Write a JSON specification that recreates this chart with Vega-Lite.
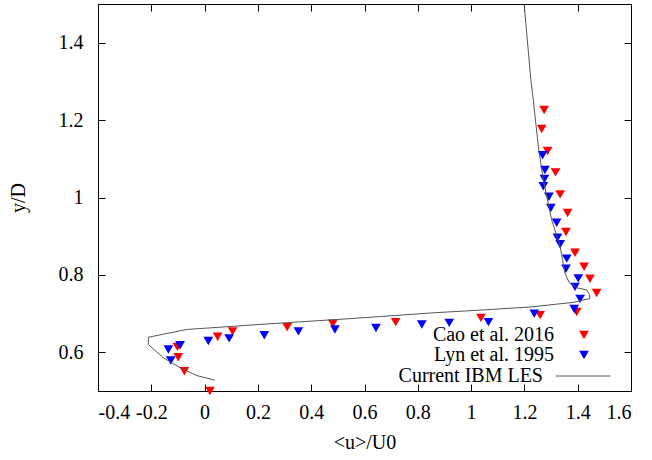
{
  "$schema": "https://vega.github.io/schema/vega-lite/v6.json",
  "width": 533,
  "height": 387,
  "autosize": {"type": "none"},
  "padding": {"left": 98, "top": 4, "right": 21, "bottom": 69},
  "background": "white",
  "config": {
    "view": {"stroke": "#000", "strokeWidth": 1},
    "font": "Liberation Serif",
    "axis": {
      "domain": false,
      "grid": false,
      "tickColor": "#000",
      "tickSize": -7,
      "tickWidth": 1,
      "labelFont": "Liberation Serif",
      "labelFontSize": 20,
      "labelColor": "#000",
      "titleFont": "Liberation Serif",
      "titleFontSize": 20,
      "titleFontWeight": "normal",
      "titleColor": "#000"
    },
    "legend": {
      "labelFont": "Liberation Serif",
      "labelFontSize": 20,
      "labelColor": "#000",
      "title": null,
      "labelAlign": "right",
      "labelLimit": 400,
      "rowPadding": 0,
      "padding": 0,
      "orient": "none"
    }
  },
  "datasets": {
    "pts": [
      {"u": 0.020, "y": 0.500, "s": "Cao et al. 2016"},
      {"u": -0.076, "y": 0.551, "s": "Cao et al. 2016"},
      {"u": -0.099, "y": 0.587, "s": "Cao et al. 2016"},
      {"u": -0.102, "y": 0.614, "s": "Cao et al. 2016"},
      {"u": 0.049, "y": 0.640, "s": "Cao et al. 2016"},
      {"u": 0.105, "y": 0.654, "s": "Cao et al. 2016"},
      {"u": 0.310, "y": 0.665, "s": "Cao et al. 2016"},
      {"u": 0.481, "y": 0.674, "s": "Cao et al. 2016"},
      {"u": 0.717, "y": 0.678, "s": "Cao et al. 2016"},
      {"u": 1.037, "y": 0.689, "s": "Cao et al. 2016"},
      {"u": 1.259, "y": 0.696, "s": "Cao et al. 2016"},
      {"u": 1.396, "y": 0.704, "s": "Cao et al. 2016"},
      {"u": 1.471, "y": 0.753, "s": "Cao et al. 2016"},
      {"u": 1.446, "y": 0.790, "s": "Cao et al. 2016"},
      {"u": 1.424, "y": 0.821, "s": "Cao et al. 2016"},
      {"u": 1.390, "y": 0.857, "s": "Cao et al. 2016"},
      {"u": 1.356, "y": 0.911, "s": "Cao et al. 2016"},
      {"u": 1.362, "y": 0.960, "s": "Cao et al. 2016"},
      {"u": 1.334, "y": 1.008, "s": "Cao et al. 2016"},
      {"u": 1.317, "y": 1.065, "s": "Cao et al. 2016"},
      {"u": 1.287, "y": 1.120, "s": "Cao et al. 2016"},
      {"u": 1.265, "y": 1.177, "s": "Cao et al. 2016"},
      {"u": 1.274, "y": 1.226, "s": "Cao et al. 2016"},
      {"u": -0.136, "y": 0.607, "s": "Lyn et al. 1995"},
      {"u": -0.127, "y": 0.579, "s": "Lyn et al. 1995"},
      {"u": -0.092, "y": 0.618, "s": "Lyn et al. 1995"},
      {"u": 0.014, "y": 0.629, "s": "Lyn et al. 1995"},
      {"u": 0.092, "y": 0.636, "s": "Lyn et al. 1995"},
      {"u": 0.224, "y": 0.644, "s": "Lyn et al. 1995"},
      {"u": 0.352, "y": 0.654, "s": "Lyn et al. 1995"},
      {"u": 0.489, "y": 0.659, "s": "Lyn et al. 1995"},
      {"u": 0.643, "y": 0.663, "s": "Lyn et al. 1995"},
      {"u": 0.815, "y": 0.672, "s": "Lyn et al. 1995"},
      {"u": 0.918, "y": 0.676, "s": "Lyn et al. 1995"},
      {"u": 1.065, "y": 0.678, "s": "Lyn et al. 1995"},
      {"u": 1.237, "y": 0.700, "s": "Lyn et al. 1995"},
      {"u": 1.387, "y": 0.712, "s": "Lyn et al. 1995"},
      {"u": 1.409, "y": 0.738, "s": "Lyn et al. 1995"},
      {"u": 1.390, "y": 0.769, "s": "Lyn et al. 1995"},
      {"u": 1.402, "y": 0.791, "s": "Lyn et al. 1995"},
      {"u": 1.356, "y": 0.816, "s": "Lyn et al. 1995"},
      {"u": 1.359, "y": 0.842, "s": "Lyn et al. 1995"},
      {"u": 1.334, "y": 0.879, "s": "Lyn et al. 1995"},
      {"u": 1.324, "y": 0.896, "s": "Lyn et al. 1995"},
      {"u": 1.321, "y": 0.935, "s": "Lyn et al. 1995"},
      {"u": 1.299, "y": 0.973, "s": "Lyn et al. 1995"},
      {"u": 1.292, "y": 1.002, "s": "Lyn et al. 1995"},
      {"u": 1.271, "y": 1.029, "s": "Lyn et al. 1995"},
      {"u": 1.275, "y": 1.048, "s": "Lyn et al. 1995"},
      {"u": 1.277, "y": 1.071, "s": "Lyn et al. 1995"},
      {"u": 1.268, "y": 1.109, "s": "Lyn et al. 1995"}
    ],
    "les": [
      {"i": 0, "u": 0.039, "y": 0.528, "s": "Current IBM LES"},
      {"i": 1, "u": -0.030, "y": 0.540, "s": "Current IBM LES"},
      {"i": 2, "u": -0.092, "y": 0.560, "s": "Current IBM LES"},
      {"i": 3, "u": -0.155, "y": 0.586, "s": "Current IBM LES"},
      {"i": 4, "u": -0.211, "y": 0.620, "s": "Current IBM LES"},
      {"i": 5, "u": -0.211, "y": 0.639, "s": "Current IBM LES"},
      {"i": 6, "u": -0.067, "y": 0.659, "s": "Current IBM LES"},
      {"i": 7, "u": 0.208, "y": 0.672, "s": "Current IBM LES"},
      {"i": 8, "u": 0.546, "y": 0.687, "s": "Current IBM LES"},
      {"i": 9, "u": 0.858, "y": 0.702, "s": "Current IBM LES"},
      {"i": 10, "u": 1.033, "y": 0.709, "s": "Current IBM LES"},
      {"i": 11, "u": 1.221, "y": 0.717, "s": "Current IBM LES"},
      {"i": 12, "u": 1.383, "y": 0.729, "s": "Current IBM LES"},
      {"i": 13, "u": 1.446, "y": 0.739, "s": "Current IBM LES"},
      {"i": 14, "u": 1.444, "y": 0.749, "s": "Current IBM LES"},
      {"i": 15, "u": 1.434, "y": 0.761, "s": "Current IBM LES"},
      {"i": 16, "u": 1.396, "y": 0.767, "s": "Current IBM LES"},
      {"i": 17, "u": 1.368, "y": 0.780, "s": "Current IBM LES"},
      {"i": 18, "u": 1.352, "y": 0.805, "s": "Current IBM LES"},
      {"i": 19, "u": 1.334, "y": 0.874, "s": "Current IBM LES"},
      {"i": 20, "u": 1.302, "y": 0.943, "s": "Current IBM LES"},
      {"i": 21, "u": 1.271, "y": 1.046, "s": "Current IBM LES"},
      {"i": 22, "u": 1.252, "y": 1.133, "s": "Current IBM LES"},
      {"i": 23, "u": 1.233, "y": 1.255, "s": "Current IBM LES"},
      {"i": 24, "u": 1.224, "y": 1.305, "s": "Current IBM LES"},
      {"i": 25, "u": 1.199, "y": 1.500, "s": "Current IBM LES"}
    ]
  },
  "layer": [
    {
      "data": {"name": "pts"},
      "mark": {"type": "point", "filled": true, "opacity": 1, "shape": "triangle-down", "size": 95, "strokeWidth": 0, "clip": false},
      "encoding": {
        "x": {
          "field": "u", "type": "quantitative",
          "scale": {"domain": [-0.4, 1.6], "nice": false, "zero": false},
          "axis": {
            "values": [-0.4, -0.2, 0, 0.2, 0.4, 0.6, 0.8, 1, 1.2, 1.4, 1.6],
            "labelExpr": "datum.value < 0 ? '-' + format(-datum.value, '~g') : format(datum.value, '~g')",
            "labelPadding": 18,
            "title": "<u>/U0",
            "titlePadding": 10
          }
        },
        "y": {
          "field": "y", "type": "quantitative",
          "scale": {"domain": [0.5, 1.5], "nice": false, "zero": false},
          "axis": {
            "values": [0.6, 0.8, 1, 1.2, 1.4],
            "labelExpr": "format(datum.value, '~g')",
            "labelPadding": 22,
            "title": "y/D",
            "titlePadding": 30
          }
        },
        "color": {
          "field": "s", "type": "nominal",
          "scale": {"domain": ["Cao et al. 2016", "Lyn et al. 1995"], "range": ["#ff0000", "#0000ff"]},
          "legend": {
            "legendX": 476,
            "legendY": 321,
            "labelOffset": -40,
            "symbolType": "triangle-down",
            "symbolSize": 95,
            "symbolStrokeWidth": 0
          }
        }
      }
    },
    {
      "data": {"name": "les"},
      "mark": {"type": "line", "strokeWidth": 1, "clip": true},
      "encoding": {
        "x": {
          "field": "u", "type": "quantitative",
          "axis": {"orient": "top", "values": [-0.4, -0.2, 0, 0.2, 0.4, 0.6, 0.8, 1, 1.2, 1.4, 1.6], "labels": false, "title": null}
        },
        "y": {
          "field": "y", "type": "quantitative",
          "axis": {"orient": "right", "values": [0.6, 0.8, 1, 1.2, 1.4], "labels": false, "title": null}
        },
        "order": {"field": "i", "type": "quantitative"},
        "stroke": {
          "field": "s", "type": "nominal",
          "scale": {"domain": ["Current IBM LES"], "range": ["#555555"]},
          "legend": {
            "legendX": 457,
            "legendY": 344,
            "labelOffset": -68,
            "symbolType": "stroke",
            "symbolSize": 3000,
            "symbolStrokeWidth": 1
          }
        }
      }
    }
  ],
  "resolve": {"axis": {"x": "independent", "y": "independent"}}
}
